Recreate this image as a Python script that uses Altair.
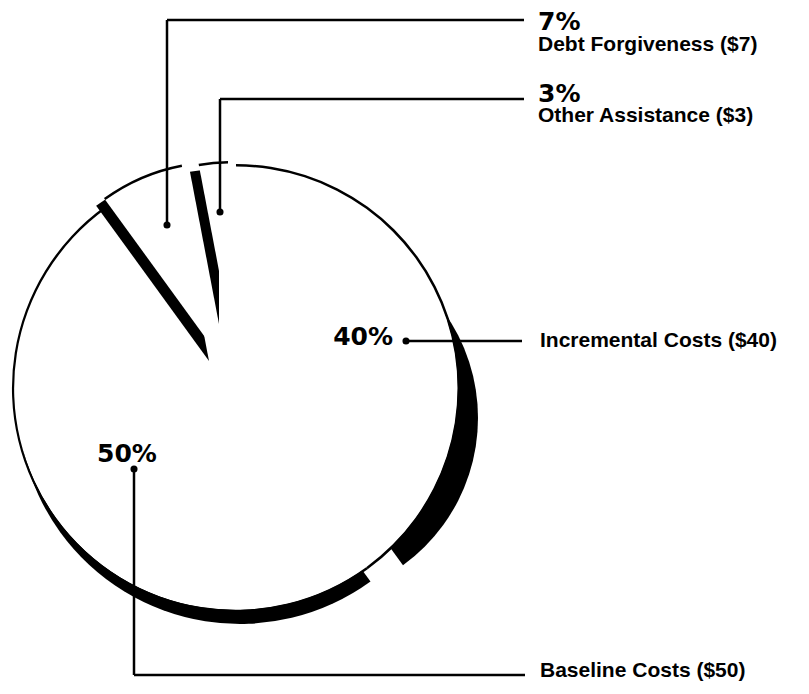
import math
import altair as alt
import pandas as pd

# ---------------- data ----------------
categories = ["Incremental Costs", "Baseline Costs", "Debt Forgiveness", "Other Assistance"]
amounts = [40, 50, 7, 3]  # dollars (total $100)
percent_labels = ["40%", "50%", "7%", "3%"]
name_labels = ["Incremental Costs ($40)", "Baseline Costs ($50)",
               "Debt Forgiveness ($7)", "Other Assistance ($3)"]

total = sum(amounts)
starts, ends, acc = [], [], 0.0
for a in amounts:
    starts.append(acc / total * 100)
    acc += a
    ends.append(acc / total * 100)
slices = pd.DataFrame({"cat": categories, "start": starts, "end": ends})

# ---------------- layout ----------------
W, H, M = 793, 678, 8  # plot size and page margin (screen px -> plot px = screen - M)

theta_scale = alt.Scale(domain=[0, 100], range=[0, 2 * math.pi])
xs = alt.Scale(domain=[0, W], range=[0, W])
ys = alt.Scale(domain=[0, H], range=[0, H])

# slice geometry in screen pixels:
# (cx, cy, radius, side_dx, side_dy, side_radius_delta)  -- "side" = dark 3-D wall
geom = {
    "Incremental Costs": (236, 388, 222, 60, 30, -40),
    "Baseline Costs": (236, 388, 222, 4, 14, 0),
    "Debt Forgiveness": (218, 355, 192, -9, 6, 0),
    "Other Assistance": (228, 318, 155, -9, 6, 0),
}


def arc_enc(chart, cx, cy):
    return chart.encode(
        theta=alt.Theta("start:Q", scale=theta_scale, stack=False),
        theta2=alt.Theta2("end:Q"),
        x=alt.value(cx - M),
        y=alt.value(cy - M),
    )


def base_chart(cats):
    return alt.Chart(slices).transform_filter(
        alt.FieldOneOfPredicate(field="cat", oneOf=cats)
    )


def side(cat):
    cx, cy, r, dx, dy, dr = geom[cat]
    return arc_enc(base_chart([cat]).mark_arc(outerRadius=r + dr, fill="#000000", strokeWidth=0),
                   cx + dx, cy + dy)


def outline(cat):
    cx, cy, r, *_ = geom[cat]
    return arc_enc(base_chart([cat]).mark_arc(innerRadius=r - 0.5, outerRadius=r + 2,
                                               fill="#000000", strokeWidth=0), cx, cy)


def face(cat):
    cx, cy, r, *_ = geom[cat]
    return arc_enc(base_chart([cat]).mark_arc(outerRadius=r, fill="#ffffff", strokeWidth=0),
                   cx, cy)


inc, base, debt, other = categories

# the two big slices share one face, drawn once more as a union to hide seams
cx0, cy0, r0, *_ = geom[inc]
union_face = arc_enc(
    base_chart([inc, base])
    .transform_aggregate(start="min(start)", end="max(end)")
    .mark_arc(outerRadius=r0 - 0.5, fill="#ffffff", strokeWidth=0),
    cx0, cy0,
)

pie_layers = [
    side(inc), side(base), face(inc), face(base), union_face, outline(inc), outline(base),
    side(debt), face(debt), outline(debt),
    side(other), face(other), outline(other),
]

# leader lines (screen px)
leaders = pd.DataFrame({
    "x":  [167, 167, 220, 220, 406, 134, 134],
    "y":  [225, 20, 212, 99, 341, 469, 675],
    "x2": [167, 524, 220, 524, 522, 134, 525],
    "y2": [20, 20, 99, 99, 341, 675, 675],
})
leaders[["x", "x2"]] -= M
leaders[["y", "y2"]] -= M

dots = pd.DataFrame({"x": [167, 220, 406, 134], "y": [225, 212, 341, 469]}) - M

rules = alt.Chart(leaders).mark_rule(color="#000000", strokeWidth=2.5).encode(
    x=alt.X("x:Q", scale=xs, axis=None),
    y=alt.Y("y:Q", scale=ys, axis=None),
    x2="x2:Q",
    y2="y2:Q",
)
points = alt.Chart(dots).mark_circle(color="#000000", size=50, opacity=1).encode(
    x=alt.X("x:Q", scale=xs, axis=None),
    y=alt.Y("y:Q", scale=ys, axis=None),
)

# text positions (screen px, alphabetic baseline)
pct_pos = pd.DataFrame({
    "t": percent_labels,
    "x": [393, 97, 538, 538],
    "y": [345, 462, 30, 102],
    "a": ["right", "left", "left", "left"],
})
name_pos = pd.DataFrame({
    "t": name_labels,
    "x": [540, 540, 538, 538],
    "y": [347, 677, 51, 122],
})
pct_pos[["x", "y"]] -= M
name_pos[["x", "y"]] -= M


def pct_text(rows, align):
    return alt.Chart(rows).mark_text(
        align=align, baseline="alphabetic", font="DejaVu Sans",
        fontWeight="bold", fontSize=25, color="#000000",
    ).encode(x=alt.X("x:Q", scale=xs, axis=None), y=alt.Y("y:Q", scale=ys, axis=None), text="t:N")


pct_left = pct_text(pct_pos[pct_pos.a == "left"], "left")
pct_right = pct_text(pct_pos[pct_pos.a == "right"], "right")
names = alt.Chart(name_pos).mark_text(
    align="left", baseline="alphabetic", font="Liberation Sans",
    fontWeight="bold", fontSize=21, color="#000000",
).encode(x=alt.X("x:Q", scale=xs, axis=None), y=alt.Y("y:Q", scale=ys, axis=None), text="t:N")

chart = (
    alt.layer(*pie_layers, rules, points, pct_left, pct_right, names)
    .properties(width=W, height=H, padding=0, autosize="none", background="#ffffff")
    .configure_view(strokeWidth=0)
)

chart.save("out.html", embed_options={"renderer": "svg", "actions": False})
